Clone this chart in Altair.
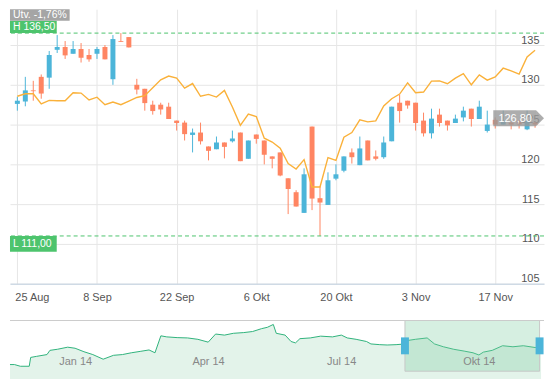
import json
import altair as alt
import pandas as pd

# ---------------- colours ----------------
BLUE = "#4cb5d9"
ORANGE = "#ff8562"
LINE = "#fab13a"
GREEN = "#4dc46d"
GRID = "#e6e6e6"

# ---------------- main chart data ----------------
opens = [127.6, 127.9, 129.3, 131.0, 130.9, 134.4, 134.75, 133.9, 134.5, 133.75,
         133.9, 134.75, 130.7, 135.5, 136.0, 130.0, 129.5, 127.5, 127.5, 127.25,
         125.5, 125.25, 123.7, 124.0, 122.25, 121.9, 122.75, 122.9, 124.0, 120.7,
         123.75, 123.0, 121.0, 121.5, 118.25, 116.5, 113.9, 124.75, 115.75, 114.9,
         118.2, 119.2, 121.5, 119.9, 123.0, 121.0, 120.9, 122.9, 127.75, 128.0,
         127.75, 125.5, 123.9, 126.25, 125.5, 125.2, 125.9, 127.0, 125.7, 124.2,
         125.6, 125.0, 125.25, 125.5, 124.4, 125.25]
highs = [128.5, 131.0, 130.5, 131.3, 134.25, 136.25, 135.5, 135.5, 135.25, 134.5,
         134.75, 135.0, 136.25, 136.5, 136.0, 130.75, 129.5, 128.0, 127.75, 127.75,
         125.5, 125.5, 124.5, 125.25, 122.25, 123.5, 122.75, 124.25, 124.0, 123.0,
         123.75, 123.0, 121.0, 121.5, 118.25, 116.75, 119.5, 124.75, 117.25, 119.0,
         120.0, 121.0, 122.0, 123.5, 123.0, 121.75, 123.5, 127.25, 128.75, 128.0,
         127.75, 126.5, 127.0, 127.0, 125.5, 126.25, 127.25, 127.0, 128.0, 126.75,
         125.9, 126.75, 125.4, 125.6, 126.75, 125.4]
lows = [126.75, 127.3, 128.0, 128.25, 129.5, 134.0, 133.25, 133.9, 132.8, 132.9,
        133.25, 133.2, 130.0, 135.4, 134.7, 128.8, 126.75, 126.25, 126.25, 125.7,
        124.25, 123.0, 121.5, 122.5, 120.5, 121.9, 120.75, 122.75, 120.4, 120.7,
        122.6, 120.0, 119.5, 118.5, 113.75, 114.7, 113.9, 114.25, 111.0, 114.9,
        118.0, 119.0, 120.1, 119.9, 120.5, 120.5, 120.7, 122.9, 125.25, 127.0,
        124.25, 123.5, 123.25, 124.75, 124.25, 125.2, 125.4, 124.75, 125.7, 124.0,
        124.5, 125.0, 124.4, 124.5, 124.3, 124.6]
closes = [128.0, 129.3, 129.2, 128.9, 133.75, 134.75, 133.7, 134.5, 133.4, 133.2,
          134.5, 133.2, 135.75, 135.4, 134.7, 129.4, 127.7, 126.7, 126.9, 125.7,
          125.2, 123.8, 124.0, 122.9, 121.7, 122.75, 122.2, 123.25, 120.4, 123.0,
          123.2, 121.2, 120.7, 118.6, 116.9, 114.7, 118.75, 115.7, 115.2, 118.0,
          118.75, 121.0, 120.9, 122.0, 120.5, 120.7, 122.75, 127.25, 126.7, 127.4,
          125.2, 123.9, 125.75, 125.2, 124.9, 125.75, 126.75, 125.7, 127.25, 125.0,
          125.0, 125.5, 125.0, 125.0, 125.5, 125.0]
compare = [128.56, 128.88, 128.88, 127.59, 128.04, 128.0, 128.0, 129.0, 128.96, 128.09,
           128.44, 127.5, 127.84, 127.5, 127.96, 128.41, 128.63, 129.63, 130.63, 131.1,
           130.84, 129.59, 130.16, 128.56, 128.79, 128.46, 129.29, 127.21, 124.9, 126.31,
           126.0, 123.29, 122.81, 122.03, 120.09, 119.41, 120.59, 117.16, 117.16, 120.84,
           120.5, 123.41, 124.0, 125.59, 125.34, 125.46, 127.34, 128.25, 128.84, 130.25,
           129.0, 129.09, 130.46, 130.5, 130.13, 130.84, 131.41, 130.0, 131.25, 130.59,
           131.0, 132.09, 131.75, 131.34, 133.5, 134.34]

tick_idx = [0, 10, 20, 30, 40, 50, 60]
tick_labels = ["25 Aug", "8 Sep", "22 Sep", "6 Okt", "20 Okt", "3 Nov", "17 Nov"]
y_ticks = [105, 110, 115, 120, 125, 130, 135]

high_level = 136.50
low_level = 111.00
last_price = 126.80
change_text = "Utv. -1,76%"

# ---------------- navigator data ----------------
nav_dates = ["2013-12-01", "2013-12-04", "2013-12-08", "2013-12-14", "2013-12-15",
             "2013-12-19", "2013-12-26", "2013-12-28", "2014-01-02", "2014-01-09",
             "2014-01-14", "2014-01-20", "2014-01-26", "2014-02-02", "2014-02-09",
             "2014-02-15", "2014-02-21", "2014-02-27", "2014-03-05", "2014-03-09",
             "2014-03-13", "2014-03-17", "2014-03-24", "2014-03-31", "2014-04-07",
             "2014-04-14", "2014-04-19", "2014-04-25", "2014-05-01", "2014-05-08",
             "2014-05-14", "2014-05-20", "2014-05-24", "2014-05-28", "2014-05-30",
             "2014-06-05", "2014-06-09", "2014-06-12", "2014-06-15", "2014-06-22",
             "2014-06-29", "2014-07-07", "2014-07-13", "2014-07-17", "2014-07-23",
             "2014-07-30", "2014-08-02", "2014-08-08", "2014-08-13", "2014-08-19",
             "2014-08-25", "2014-08-27", "2014-09-01", "2014-09-09", "2014-09-14",
             "2014-09-20", "2014-09-27", "2014-10-04", "2014-10-10", "2014-10-14",
             "2014-10-17", "2014-10-23", "2014-10-30", "2014-11-06", "2014-11-13",
             "2014-11-21", "2014-11-25"]
nav_values = [103.2, 103.2, 101.1, 101.1, 112.0,
              113.3, 115.5, 120.7, 122.0, 124.6,
              123.3, 119.0, 115.5, 109.8, 114.6,
              115.5, 117.7, 119.4, 121.2, 117.7,
              138.6, 137.3, 136.4, 136.0, 134.3,
              130.8, 140.8, 139.5, 141.7, 142.6,
              143.9, 147.4, 149.1, 152.6, 141.7,
              139.5, 131.6, 129.9, 135.1, 136.0,
              138.2, 137.3, 139.5, 136.0, 134.3,
              131.6, 128.6, 127.7, 127.3, 127.7,
              128.6, 132.9, 134.3, 136.0, 128.6,
              125.1, 122.0, 119.8, 117.7, 115.0,
              118.5, 120.7, 126.4, 125.1, 126.4,
              124.2, 125.1]
nav_month_names = ["Jan", "Feb", "Mar", "Apr", "Maj", "Jun", "Jul", "Aug", "Sep", "Okt", "Nov", "Dec"]
sel_start = "2014-08-25"
sel_end = "2014-11-24"

assert len(opens) == len(highs) == len(lows) == len(closes) == len(compare)
assert len(nav_dates) == len(nav_values)

# ---------------- tables ----------------
n = len(opens)
trade_days = pd.bdate_range("2014-08-25", periods=n)
df = pd.DataFrame({
    "idx": list(range(n)),
    "date": trade_days.strftime("%Y-%m-%d"),
    "open": opens, "high": highs, "low": lows, "close": closes,
    "compare": compare,
})
df["dir"] = ["up" if c >= o else "down" for o, c in zip(opens, closes)]

W, H = 537, 276
NAV_H = 51

x_scale = alt.Scale(domain=[-0.3, 65.5], nice=False, zero=False)
y_scale = alt.Scale(domain=[105, 139.5], nice=False, zero=False)

x_axis = alt.Axis(
    values=tick_idx,
    labelExpr=f"{json.dumps(tick_labels)}[indexof({json.dumps(tick_idx)}, datum.value)]",
    title=None, grid=True, gridColor=GRID, ticks=False, tickSize=0,
    domainColor="#c0d0e0", labelPadding=8,
    labelAlign={"condition": {"test": "datum.value == 0", "value": "left"}, "value": "center"},
    labelOffset={"condition": {"test": "datum.value == 0", "value": -2.5}, "value": 0},
    labelColor="#555555", labelFontSize=11,
)
y_axis = alt.Axis(
    orient="right", values=y_ticks, title=None, grid=True, gridColor=GRID,
    ticks=False, tickSize=0, domain=False, labelAlign="right", labelPadding=-5,
    labelBaseline="alphabetic", labelOffset=-2, labelColor="#555555", labelFontSize=11,
)

X = alt.X("idx:Q", scale=x_scale, axis=x_axis)
color_enc = alt.Color("dir:N", scale=alt.Scale(domain=["up", "down"], range=[BLUE, ORANGE]), legend=None)


def Y(field):
    return alt.Y(field, scale=y_scale, axis=y_axis)


base = alt.Chart(df)
wicks = base.mark_rule(strokeWidth=1).encode(x=X, y=Y("low:Q"), y2="high:Q", color=color_enc)
bodies = base.mark_bar(size=5).encode(x=X, y=Y("open:Q"), y2="close:Q", color=color_enc)
comp_line = base.mark_line(color=LINE, strokeWidth=1.4).encode(x=X, y=Y("compare:Q"))

levels_df = pd.DataFrame({"level": [high_level, low_level]})
level_rules = alt.Chart(levels_df).mark_rule(color=GREEN, strokeDash=[4, 3], strokeWidth=1).encode(
    y=Y("level:Q"))


def fmt(v):
    return f"{v:.2f}".replace(".", ",")


box_df = pd.DataFrame({
    "text": [f"H {fmt(high_level)}", f"L {fmt(low_level)}"],
    "y1": [high_level, low_level],
    "y2": [high_level + 1.56, low_level - 2.0],
    "ym": [high_level + 0.78, low_level - 1.0],
})
boxes = alt.Chart(box_df).mark_rect(color=GREEN).encode(
    x=alt.value(0), x2=alt.value(47), y=Y("y1:Q"), y2="y2:Q")
box_text = alt.Chart(box_df).mark_text(align="left", baseline="middle", color="white", fontSize=10.5).encode(
    x=alt.value(3), y=Y("ym:Q"), text="text:N")

utv_df = pd.DataFrame({"text": [change_text]})
utv_box = alt.Chart(utv_df).mark_rect(color="#a5a5a5").encode(
    x=alt.value(0), x2=alt.value(60), y=alt.value(0), y2=alt.value(11.5))
utv_text = alt.Chart(utv_df).mark_text(align="left", baseline="middle", color="white", fontSize=10.5).encode(
    x=alt.value(3), y=alt.value(6), text="text:N")

tag_df = pd.DataFrame({"price": [last_price], "text": [fmt(last_price)]})
tag_box = alt.Chart(tag_df).mark_rect(color="#999999", opacity=0.8, y2Offset=16).encode(
    x=alt.value(486), x2=alt.value(529), y=Y("price:Q"), y2="price:Q")
tag_arrow = alt.Chart(tag_df).mark_point(shape="M0,-1L1,0L0,1Z", filled=True, size=256, color="#999999",
                                         opacity=0.8, yOffset=8).encode(
    x=alt.value(529), y=Y("price:Q"))
tag_text = alt.Chart(tag_df).mark_text(align="center", baseline="middle", color="white", fontSize=11, dy=8.5).encode(
    x=alt.value(508), y=Y("price:Q"), text="text:N")

main = alt.layer(
    wicks, bodies, comp_line, level_rules, boxes, box_text, utv_box, utv_text,
    tag_box, tag_arrow, tag_text,
).properties(width=W, height=H)

# ---------------- navigator ----------------
nav_df = pd.DataFrame({"date": nav_dates, "value": nav_values})
nav_scale = alt.Scale(domain=[alt.DateTime(year=2013, month=12, date=1),
                              alt.DateTime(year=2014, month=11, date=27)])
nav_axis = alt.Axis(
    values=[alt.DateTime(year=2014, month=m, date=1) for m in (1, 4, 7, 10)],
    labelExpr=f"{json.dumps(nav_month_names)}[month(datum.value)] + ' ' + timeFormat(datum.value, '%y')",
    title=None, grid=False, ticks=False, tickSize=0, domain=False, zindex=1,
    labelAlign="left", labelOffset=3, labelPadding=-16, labelColor="#888888", labelFontSize=11,
)
nav_y = alt.Y("value:Q", scale=alt.Scale(domain=[95, 157.5], nice=False, zero=False), axis=None)

nav_area = alt.Chart(nav_df).mark_area(color="#e3f3ea").encode(
    x=alt.X("date:T", scale=nav_scale, axis=nav_axis), y=nav_y, y2=alt.value(NAV_H))
nav_line = alt.Chart(nav_df).mark_line(color="#2fb27c", strokeWidth=1).encode(
    x=alt.X("date:T", scale=nav_scale, axis=nav_axis), y=nav_y)

sel_df = pd.DataFrame({"start": [sel_start], "end": [sel_end]})
sel_rect = alt.Chart(sel_df).mark_rect(color="#7fcda1", fillOpacity=0.32, stroke="#c8c8c8", strokeWidth=1).encode(
    x=alt.X("start:T", scale=nav_scale, axis=nav_axis), x2="end:T", y=alt.value(0), y2=alt.value(NAV_H))
top_rule = alt.Chart(sel_df).mark_rule(color="#cccccc").encode(
    x=alt.value(0), x2=alt.value(W), y=alt.value(0))
handle_df = pd.DataFrame({"date": [sel_start, sel_end]})
handles = alt.Chart(handle_df).mark_rect(color=BLUE, xOffset=-4, x2Offset=4).encode(
    x=alt.X("date:T", scale=nav_scale, axis=nav_axis), x2="date:T", y=alt.value(17), y2=alt.value(34))

nav = alt.layer(nav_area, nav_line, sel_rect, top_rule, handles).properties(width=W, height=NAV_H)

chart = alt.vconcat(main, nav, spacing=17).properties(
    padding={"left": 0, "top": 0, "right": 0, "bottom": 0}
).configure(font="Liberation Sans").configure_view(strokeWidth=0)

chart.save("out.html", embed_options={"renderer": "svg", "actions": False})
